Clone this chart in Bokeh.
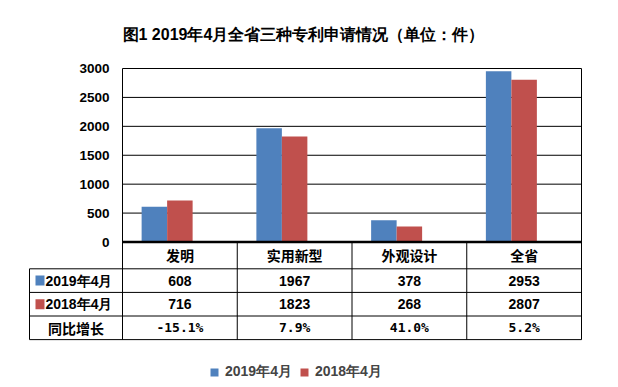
from bokeh.plotting import figure
from bokeh.models import Range1d, ColumnDataSource, Legend, LegendItem, FixedTicker
from bokeh.core.properties import value
from bokeh.embed import file_html
from bokeh.resources import INLINE

# ---- data ----
title_text = "图1 2019年4月全省三种专利申请情况（单位：件）"
categories = ["发明", "实用新型", "外观设计", "全省"]
series_names = ["2019年4月", "2018年4月"]
v2019 = [608, 1967, 378, 2953]
v2018 = [716, 1823, 268, 2807]
growth_label = "同比增长"
growth = ["-15.1%", "7.9%", "41.0%", "5.2%"]
y_ticks = [0, 500, 1000, 1500, 2000, 2500, 3000]

BLUE = "#4F81BD"
RED = "#C0504D"
colors = [BLUE, RED]
LAT = "Liberation Sans"
CJK = "Noto Sans CJK SC"

# ---- layout constants (pixels -> data units) ----
n = len(categories)
U = 114.75                       # px per category column
lab_w = 93 / U                   # width of the row-label column (category units)
ymax = y_ticks[-1]
KY = 173.5 / ymax                # px per value unit
ROW = 23.6 / KY                  # table row height in value units
hdr = 1.136                      # header row height (rows)
edges = [0.0, -hdr * ROW, -(hdr + 1) * ROW, -(hdr + 2) * ROW, -(hdr + 3) * ROW]
centers = [(edges[i] + edges[i + 1]) / 2 for i in range(4)]

p = figure(x_range=Range1d(-lab_w - 1 / U, n + 1 / U),
           y_range=Range1d(-137.5 / KY, ymax + 10 / KY),
           width=610, height=379, output_backend="svg", toolbar_location=None,
           min_border_left=28, min_border_right=28, min_border_top=58, min_border_bottom=0,
           x_axis_location=None, y_axis_location="left", title=title_text)
p.title.text_font = LAT
p.title.text_font_size = "16px"
p.title.text_font_style = "bold"
p.title.text_color = "black"
p.title.align = "left"
p.title.vertical_align = "middle"
p.title.standoff = 29
p.title.offset = 94
p.grid.visible = False
p.outline_line_color = None

# y axis sits at x = 0 (left edge of the chart area)
p.yaxis.fixed_location = 0
p.yaxis.ticker = FixedTicker(ticks=y_ticks)
p.yaxis.axis_line_color = None
p.yaxis.major_tick_line_color = None
p.yaxis.minor_tick_line_color = None
p.yaxis.major_label_text_font = LAT
p.yaxis.major_label_text_font_style = "bold"
p.yaxis.major_label_text_font_size = "13.5px"
p.yaxis.major_label_text_color = "black"
p.yaxis.major_label_standoff = 7

# gridlines (chart area only)
p.segment(x0=[0] * len(y_ticks), x1=[n] * len(y_ticks), y0=y_ticks, y1=y_ticks,
          line_color="black", line_width=1)

# bars
xc = [i + 0.5 for i in range(n)]
bw = 0.2222
src = ColumnDataSource(dict(xb=[x - bw for x in xc], xr=xc, v2019=v2019, v2018=v2018))
p.vbar(x="xb", top="v2019", width=bw, source=src, fill_color=BLUE, line_color=None)
p.vbar(x="xr", top="v2018", width=bw, source=src, fill_color=RED, line_color=None)

# chart frame + table lines
p.segment(x0=[0, n], x1=[0, n], y0=[ymax, ymax], y1=[edges[4], edges[4]],
          line_color="black", line_width=1)
p.segment(x0=list(range(1, n)), x1=list(range(1, n)), y0=[0] * (n - 1), y1=[edges[4]] * (n - 1),
          line_color="black", line_width=1)
p.segment(x0=[-lab_w], x1=[-lab_w], y0=[edges[1]], y1=[edges[4]], line_color="black", line_width=1)
p.segment(x0=[-lab_w] * 4, x1=[n] * 4, y0=edges[1:], y1=edges[1:], line_color="black", line_width=1)
p.segment(x0=[0], x1=[n], y0=[0], y1=[0], line_color="black", line_width=2.5)

# table texts
p.text(x=xc, y=[centers[0]] * n, text=categories, text_align="center", text_baseline="middle",
       text_font=value(CJK), text_font_style="bold", text_font_size="14px", text_color="black")
p.text(x=xc, y=[centers[1]] * n, text=[str(v) for v in v2019], text_align="center",
       text_baseline="middle", text_font=value(LAT), text_font_style="bold",
       text_font_size="14px", text_color="black")
p.text(x=xc, y=[centers[2]] * n, text=[str(v) for v in v2018], text_align="center",
       text_baseline="middle", text_font=value(LAT), text_font_style="bold",
       text_font_size="14px", text_color="black")
p.text(x=xc, y=[centers[3]] * n, text=growth, text_align="center",
       text_baseline="middle", text_font=value("DejaVu Sans Mono"), text_font_style="bold",
       text_font_size="13px", text_color="black")

sq_src = ColumnDataSource(dict(x=[-0.719, -0.719], y=[centers[1], centers[2]], c=colors))
sq = p.rect(x="x", y="y", width=9, height=10, width_units="screen", height_units="screen",
            fill_color="c", line_color=None, source=sq_src)
p.text(x=[-0.671, -0.671], y=[centers[1], centers[2]], text=series_names, text_align="left",
       text_baseline="middle", text_font=value(LAT), text_font_style="bold",
       text_font_size="14px", text_color="black")
p.text(x=[-lab_w / 2], y=[centers[3]], text=[growth_label], text_align="center",
       text_baseline="middle", text_font=value(CJK), text_font_style="bold",
       text_font_size="14px", text_color="black")

legend = Legend(items=[LegendItem(label=series_names[0], renderers=[sq], index=0),
                       LegendItem(label=series_names[1], renderers=[sq], index=1)],
                orientation="horizontal", location=(181, -2),
                glyph_width=10, glyph_height=10, label_standoff=6, spacing=7,
                padding=0, margin=0, border_line_color=None, background_fill_alpha=0,
                label_text_font=LAT, label_text_font_style="bold",
                label_text_font_size="14px", label_height=14)
p.add_layout(legend)

open("out.html", "w").write(file_html(p, INLINE))
